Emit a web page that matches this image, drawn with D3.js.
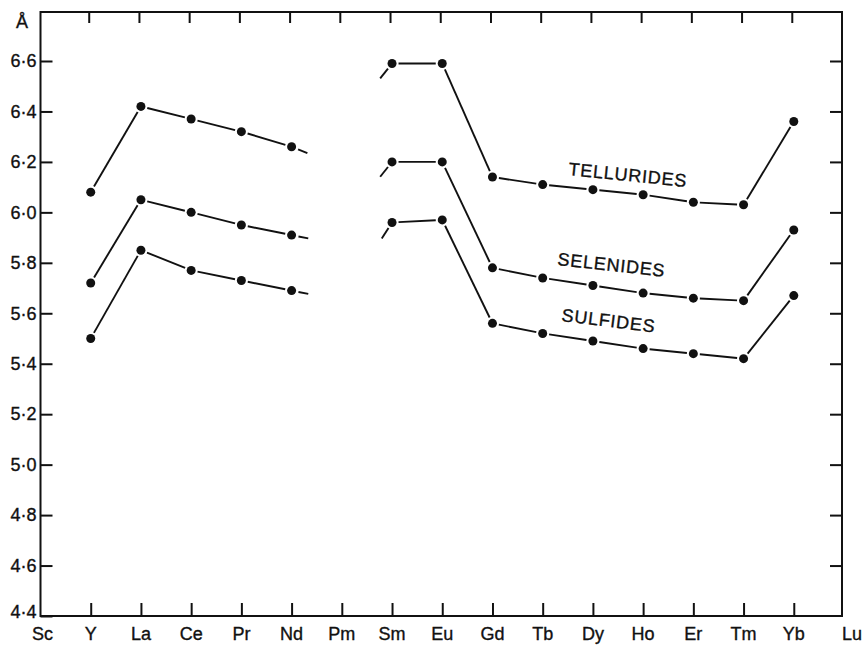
<!DOCTYPE html>
<html><head><meta charset="utf-8">
<script src="https://cdn.jsdelivr.net/npm/d3@7"></script>
<style>body{margin:0;background:#fff}svg{display:block}</style>
</head><body><svg id="c" width="867" height="645"></svg>
<script>
// ---- data ----
const elements = ["Sc","Y","La","Ce","Pr","Nd","Pm","Sm","Eu","Gd","Tb","Dy","Ho","Er","Tm","Yb","Lu"];
const seriesNames = ["TELLURIDES","SELENIDES","SULFIDES"];
const tellurides = [null,6.08,6.42,6.37,6.32,6.26,null,6.59,6.59,6.14,6.11,6.09,6.07,6.04,6.03,6.36,null];
const selenides  = [null,5.72,6.05,6.00,5.95,5.91,null,6.20,6.20,5.78,5.74,5.71,5.68,5.66,5.65,5.93,null];
const sulfides   = [null,5.50,5.85,5.77,5.73,5.69,null,5.96,5.97,5.56,5.52,5.49,5.46,5.44,5.42,5.67,null];
// direction of the broken line stubs toward the (missing) Pm value
const pmFromNd = [6.18,5.87,5.65];
const pmToSm   = [6.34,5.95,5.65];
const yTicks = [4.4,4.6,4.8,5.0,5.2,5.4,5.6,5.8,6.0,6.2,6.4,6.6];
const yTickLabels = ["4·4","4·6","4·8","5·0","5·2","5·4","5·6","5·8","6·0","6·2","6·4","6·6"];
const yUnit = "Å";

(function () {
// ---- layout ----
const svg = d3.select("#c");
const L = 40.5, R = 842, T = 12, B = 616;
const x = d3.scalePoint().domain(elements).range([40.5, 844]);
const y = d3.scaleLinear().domain([4.4, 6.6]).range([B, 61]);
const font = "'Liberation Sans', Arial, Helvetica, sans-serif";
const ink = "#111";
const textStyle = s => s.attr("font-family", font).attr("font-size", 18).attr("fill", ink)
  .attr("stroke", ink).attr("stroke-width", 0.35);

// frame
svg.append("rect").attr("x", L).attr("y", T).attr("width", R - L).attr("height", B - T)
  .attr("fill", "none").attr("stroke", ink).attr("stroke-width", 2);

// left axis
const gLeft = svg.append("g").attr("transform", `translate(${L},0)`)
  .call(d3.axisLeft(y).tickValues(yTicks).tickFormat((d, i) => yTickLabels[i]).tickSizeInner(-12).tickSizeOuter(0).tickPadding(4));
gLeft.select(".domain").remove();
gLeft.selectAll(".tick line").attr("stroke", ink).attr("stroke-width", 2);
gLeft.selectAll(".tick text").attr("x", -4).call(textStyle);
gLeft.selectAll(".tick").filter(d => d === 4.4).select("text").attr("dy", "0.1em");

// right axis ticks (inward)
const gRight = svg.append("g").attr("transform", `translate(${R},0)`)
  .call(d3.axisRight(y).tickValues(yTicks.filter(v => v > 4.5)).tickFormat("").tickSizeInner(-12).tickSizeOuter(0));
gRight.select(".domain").remove();
gRight.selectAll(".tick line").attr("stroke", ink).attr("stroke-width", 2);

// bottom axis
const inner = elements.slice(1, -1);
const gBottom = svg.append("g").attr("transform", `translate(0,${B})`)
  .call(d3.axisBottom(x).tickValues(inner).tickSizeInner(-13).tickSizeOuter(0).tickFormat(""));
gBottom.select(".domain").remove();
gBottom.selectAll(".tick line").attr("stroke", ink).attr("stroke-width", 2);
svg.append("g").selectAll("text").data(elements).join("text")
  .attr("x", d => x(d) + (d === "Sc" ? 2 : d === "Lu" ? 8 : 0))
  .attr("y", 640).attr("text-anchor", "middle")
  .call(textStyle).text(d => d);

// top axis ticks (inward)
const gTop = svg.append("g").attr("transform", `translate(-2,${T})`)
  .call(d3.axisTop(x).tickValues(inner).tickSizeInner(-11).tickSizeOuter(0).tickFormat(""));
gTop.select(".domain").remove();
gTop.selectAll(".tick line").attr("stroke", ink).attr("stroke-width", 2);

// unit
svg.append("text").attr("x", 22).attr("y", 28).attr("text-anchor", "middle")
  .call(textStyle).text(yUnit);

// ---- series ----
const allSeries = [tellurides, selenides, sulfides];
const gap = 6.5, r = 4.5;
function seg(x1, y1, x2, y2, d0, d1) {
  const dx = x2 - x1, dy = y2 - y1, len = Math.hypot(dx, dy);
  const ux = dx / len, uy = dy / len;
  const e = d1 == null ? len - gap : d1;
  return [x1 + ux * d0, y1 + uy * d0, x1 + ux * e, y1 + uy * e];
}
const g = svg.append("g");
allSeries.forEach((vals, k) => {
  const segs = [];
  for (let i = 0; i < vals.length - 1; i++) {
    if (vals[i] != null && vals[i + 1] != null) {
      segs.push(seg(x(elements[i]), y(vals[i]), x(elements[i + 1]), y(vals[i + 1]), gap, null));
    }
  }
  // broken stubs around Pm
  segs.push(seg(x("Nd"), y(vals[elements.indexOf("Nd")]), x("Pm"), y(pmFromNd[k]), 7, 17));
  segs.push(seg(x("Sm"), y(vals[elements.indexOf("Sm")]), x("Pm"), y(pmToSm[k]), 6.5, 19));
  g.append("g").selectAll("line").data(segs).join("line")
    .attr("x1", d => d[0]).attr("y1", d => d[1]).attr("x2", d => d[2]).attr("y2", d => d[3])
    .attr("stroke", ink).attr("stroke-width", 1.9);
  g.append("g").selectAll("circle").data(elements.map((e, i) => [e, vals[i]]).filter(d => d[1] != null)).join("circle")
    .attr("cx", d => x(d[0])).attr("cy", d => y(d[1])).attr("r", r).attr("fill", ink);
});

// series labels
const labelPos = [[568, 175, 5.8], [557, 265, 6.3], [561, 321, 7]];
svg.append("g").selectAll("text").data(seriesNames).join("text")
  .attr("transform", (d, i) => `translate(${labelPos[i][0]},${labelPos[i][1]}) rotate(${labelPos[i][2]})`)
  .call(textStyle).attr("letter-spacing", 0.8).text(d => d);
})();
</script></body></html>
